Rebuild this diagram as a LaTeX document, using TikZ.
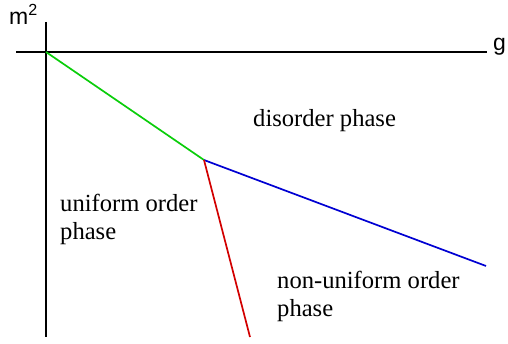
\documentclass[tikz,border=0pt]{standalone}
\usepackage{fontspec}
\setmainfont{Liberation Serif}
\newfontfamily\axisfont{Liberation Sans}
\definecolor{lgreen}{RGB}{10,205,10}
\definecolor{lblue}{RGB}{0,0,210}
\definecolor{lred}{RGB}{210,0,0}
\begin{document}
\begin{tikzpicture}[x=1pt,y=-1pt,
  axis/.style={line width=1.6pt,black},
  bound/.style={line width=1.7pt},
  lbl/.style={font=\fontsize{24.6}{28}\selectfont,align=left,inner sep=0pt,anchor=north west,text=black},
  axl/.style={font=\axisfont\fontsize{23}{27}\selectfont,inner sep=0pt}]
\useasboundingbox (0,0) rectangle (508,344);
\coordinate (xl) at (16,52);
\coordinate (xr) at (487,52);
\coordinate (yt) at (46,22);
\coordinate (yb) at (46,337);
\coordinate (o) at (46,52);
\coordinate (t) at (204,160);
\coordinate (be) at (486,266);
\coordinate (re) at (250,337);
\draw[axis] (xl) -- (xr);
\draw[axis] (yt) -- (yb);
\draw[bound,color=lgreen] (o) -- (t);
\draw[bound,color=lblue] (t) -- (be);
\draw[bound,color=lred] (t) -- (re);
\node[axl,anchor=south west] (m) at (9,25) {m\textsuperscript{2}};
\node[axl,anchor=base west] (g) at (493,51) {g};
\node[lbl] (dis) at (253,109) {disorder phase};
\node[lbl] (uni) at (60,194) {uniform order\\phase};
\node[lbl] (non) at (277,271) {non-uniform order\\phase};
\end{tikzpicture}
\end{document}
